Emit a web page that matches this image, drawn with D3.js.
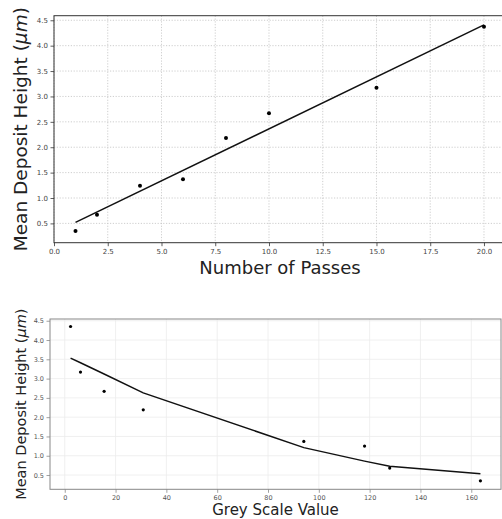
<!DOCTYPE html>
<html><head><meta charset="utf-8">
<script src="https://cdn.jsdelivr.net/npm/d3@7"></script>
<style>body{margin:0;background:#fff}svg{display:block}text{font-family:"DejaVu Sans",sans-serif}</style>
</head><body>
<svg id="c" width="502" height="519"></svg>
<script>
// Top chart: deposit height vs number of passes
const passes = [1, 2, 4, 6, 8, 10, 15, 20];
const heightsTop = [0.35, 0.67, 1.24, 1.37, 2.18, 2.67, 3.17, 4.37];
const fitPassesX = [1, 20];
const fitPassesY = [0.52, 4.41];
const topXTicks = [0, 2.5, 5, 7.5, 10, 12.5, 15, 17.5, 20];
const yTicks = [0.5, 1.0, 1.5, 2.0, 2.5, 3.0, 3.5, 4.0, 4.5];

// Bottom chart: deposit height vs grey scale value
const grey = [2.3, 6.2, 15.5, 30.9, 94.1, 118, 127.9, 163.6];
const heightsBottom = [4.35, 3.17, 2.67, 2.19, 1.37, 1.25, 0.68, 0.35];
const fitGreyY = [3.53, 3.41, 3.12, 2.63, 1.21, 0.86, 0.73, 0.53];
const bottomXTicks = [0, 20, 40, 60, 80, 100, 120, 140, 160];

const svg = d3.select("#c");

function panel(o) {
  const g = svg.append("g");
  const x = d3.scaleLinear().domain(o.xDomain).range([o.left, o.right]);
  const y = d3.scaleLinear().domain(o.yDomain).range([o.bottom, o.top]);
  // grid
  g.append("g").selectAll("line").data(o.xTicks).join("line")
    .attr("x1", d => x(d)).attr("x2", d => x(d)).attr("y1", o.top).attr("y2", o.bottom)
    .attr("stroke", o.gridColor).attr("stroke-width", o.gridWidth).attr("stroke-dasharray", o.gridDash);
  g.append("g").selectAll("line").data(yTicks).join("line")
    .attr("x1", o.left).attr("x2", o.right).attr("y1", d => y(d)).attr("y2", d => y(d))
    .attr("stroke", o.gridColor).attr("stroke-width", o.gridWidth).attr("stroke-dasharray", o.gridDash);
  // axes
  const xa = g.append("g").attr("transform", `translate(0,${o.bottom})`)
    .call(d3.axisBottom(x).tickValues(o.xTicks).tickFormat(o.xFmt).tickSize(3.5).tickPadding(2.5));
  const ya = g.append("g").attr("transform", `translate(${o.left},0)`)
    .call(d3.axisLeft(y).tickValues(yTicks).tickFormat(d3.format(".1f")).tickSize(3.5).tickPadding(2.5));
  [xa, ya].forEach(a => {
    a.select(".domain").remove();
    a.selectAll(".tick line").attr("stroke", o.spineColor).attr("stroke-width", 0.8);
    a.selectAll(".tick text").attr("fill", o.tickColor).style("font-size", o.tickSize + "px")
      .style("font-family", '"DejaVu Sans",sans-serif');
  });
  // spines
  g.append("rect").attr("x", o.left).attr("y", o.top)
    .attr("width", o.right - o.left).attr("height", o.bottom - o.top)
    .attr("fill", "none").attr("stroke", o.spineColor).attr("stroke-width", o.spineWidth);
  // fit line
  g.append("path").datum(o.fx.map((d, i) => [d, o.fy[i]]))
    .attr("d", d3.line().x(d => x(d[0])).y(d => y(d[1])))
    .attr("fill", "none").attr("stroke", "#111").attr("stroke-width", 1.5);
  // points
  g.append("g").selectAll("circle").data(o.px.map((d, i) => [d, o.py[i]])).join("circle")
    .attr("cx", d => x(d[0])).attr("cy", d => y(d[1])).attr("r", o.r).attr("fill", "#000");
  // labels
  g.append("text").attr("x", (o.left + Math.min(o.right, 502)) / 2 + o.xlShift).attr("y", o.xlY)
    .attr("text-anchor", "middle").style("font-size", o.xlSize + "px").attr("fill", "#222").text(o.xLabel);
  const yl = g.append("text")
    .attr("transform", `translate(${o.ylX},${(o.top + o.bottom) / 2}) rotate(-90)`)
    .attr("text-anchor", "middle").style("font-size", o.ylSize + "px").attr("fill", "#222");
  yl.append("tspan").text("Mean Deposit Height (");
  yl.append("tspan").attr("font-style", "italic").text("μm");
  yl.append("tspan").text(")");
}

panel({
  xDomain: [0, 20.95], yDomain: [0.12, 4.59],
  left: 54, right: 504.4, top: 15.7, bottom: 242.7,
  xTicks: topXTicks, xFmt: d3.format(".1f"),
  gridColor: "#c8c8c8", gridWidth: 0.9, gridDash: "1.2,1.6",
  spineColor: "#333", spineWidth: 1, tickColor: "#444", tickSize: 7,
  fx: fitPassesX, fy: fitPassesY, px: passes, py: heightsTop, r: 2,
  xLabel: "Number of Passes", xlY: 274, xlSize: 18, xlShift: 2,
  ylX: 27, ylSize: 18.5
});

panel({
  xDomain: [-5.8, 171.7], yDomain: [0.13, 4.545],
  left: 50, right: 501, top: 319, bottom: 489.3,
  xTicks: bottomXTicks, xFmt: d3.format("d"),
  gridColor: "#ececec", gridWidth: 0.8, gridDash: null,
  spineColor: "#888", spineWidth: 1, tickColor: "#555", tickSize: 6.5,
  fx: grey, fy: fitGreyY, px: grey, py: heightsBottom, r: 1.6,
  xLabel: "Grey Scale Value", xlY: 515, xlSize: 15, xlShift: 0,
  ylX: 26, ylSize: 14.5
});
</script>
</body></html>
